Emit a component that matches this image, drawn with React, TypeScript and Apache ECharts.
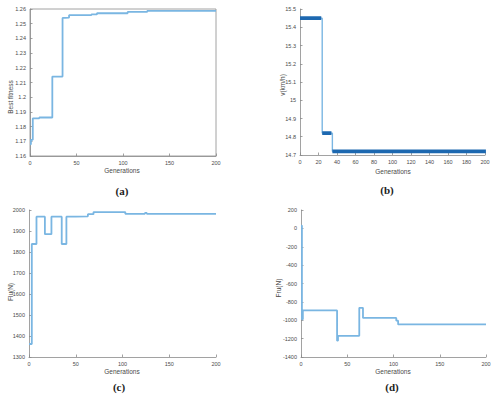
import React, { useEffect, useRef } from "react";
import * as echarts from "echarts";

const genA = [0, 1, 3, 10, 24, 35, 38, 42, 66, 72, 105, 126, 200];
const valA = [1.168, 1.171, 1.1856, 1.1862, 1.214, 1.2539, 1.2542, 1.2558, 1.2563, 1.2571, 1.258, 1.2587, 1.2587];

const genB = [0, 24, 35, 200];
const valB = [15.45, 14.82, 14.72, 14.72];

const genC = [0, 3, 8, 17, 24, 35, 40, 50, 63, 69, 103, 124, 126, 200];
const valC = [1362, 1838, 1968, 1885, 1968, 1838, 1968, 1970, 1980, 1990, 1982, 1986, 1982, 1982];

const genD = [0, 1, 2, 39, 40, 63, 67, 103, 105, 200];
const valD = [30, -990, -893, -1222, -1170, -865, -975, -1005, -1045, -1045];

const ticksA = { min: 1.16, max: 1.26, interval: 0.01 };
const ticksB = { min: 14.7, max: 15.5, interval: 0.1 };
const ticksC = { min: 1300, max: 2000, interval: 100 };
const ticksD = { min: -1400, max: 200, interval: 200 };

const panelLabels = ["(a)", "(b)", "(c)", "(d)"];
const yTitles = ["Best fitness", "v(km/h)", "Flu(N)", "Fru(N)"];
const xTitle = "Generations";

const LIGHT = "#7ab6e2";
const DARK = "#1d68b0";
const AXIS = "#8a8a8a";
const TXT = "#4a4a4a";

function pairs(g: number[], v: number[]) {
  return g.map((x, i) => [x, v[i]]);
}

export default function App() {
  const ref = useRef<HTMLDivElement>(null);
  useEffect(() => {
    if (!ref.current) return;
    const chart = echarts.init(ref.current, undefined, { renderer: "svg" });
    const grids = [
      { left: 30, top: 9, width: 186, height: 147 },
      { left: 300, top: 9, width: 185, height: 146 },
      { left: 29, top: 210, width: 187, height: 147 },
      { left: 301, top: 210, width: 185, height: 147 },
    ];
    const axisCommon = {
      axisLine: { show: true, onZero: false, lineStyle: { color: AXIS, width: 0.8 } },
      axisTick: { show: true, inside: true, length: 2.5, lineStyle: { color: AXIS, width: 0.8 } },
      axisLabel: { color: TXT, fontSize: 5.5, fontFamily: "Liberation Sans, Arial, sans-serif", margin: 4 },
      splitLine: { show: false },
    };
    const xIntervals = [50, 20, 50, 50];
    const xAxes = grids.map((_, i) => ({
      type: "value",
      gridIndex: i,
      min: 0,
      max: 200,
      interval: xIntervals[i],
      ...axisCommon,
    }));
    const yTicks = [ticksA, ticksB, ticksC, ticksD];
    const yAxes = grids.map((_, i) => ({
      type: "value",
      gridIndex: i,
      ...yTicks[i],
      ...axisCommon,
      axisLabel: {
        ...axisCommon.axisLabel,
        formatter: (v: number) =>
          i === 0 || i === 1 ? String(Math.round(v * 100) / 100) : String(Math.round(v)),
      },
    }));

    const lineSeries = (i: number, g: number[], v: number[], color: string, w: number) => ({
      type: "line",
      xAxisIndex: i,
      yAxisIndex: i,
      step: "end",
      data: pairs(g, v),
      showSymbol: false,
      lineStyle: { color, width: w },
    });

    const series: any[] = [
      lineSeries(0, genA, valA, LIGHT, 1.8),
      lineSeries(1, genB, valB, LIGHT, 1.4),
      lineSeries(2, genC, valC, LIGHT, 1.8),
      lineSeries(3, genD, valD, LIGHT, 1.8),
    ];
    for (let k = 0; k < genB.length - 1; k++) {
      const end = k === genB.length - 2 ? genB[k + 1] + 1 : genB[k + 1] - 1;
      series.push({
        type: "line",
        xAxisIndex: 1,
        yAxisIndex: 1,
        data: [
          [genB[k], valB[k]],
          [end, valB[k]],
        ],
        showSymbol: false,
        clip: false,
        lineStyle: { color: DARK, width: 3.6 },
      });
    }

    const serif = "Liberation Serif, Times New Roman, serif";
    const sans = "Liberation Sans, Arial, sans-serif";
    const panelPos = [
      [122, 191],
      [387, 190],
      [119, 387],
      [392, 387],
    ];
    const xTitlePos = [
      [122, 170],
      [393, 171],
      [122, 371],
      [393, 371],
    ];
    const yTitlePos = [
      [10, 97],
      [282, 85],
      [10, 292],
      [278, 288],
    ];
    const graphic: any[] = [];
    for (let i = 0; i < 4; i++) {
      graphic.push({
        type: "text",
        x: panelPos[i][0],
        y: panelPos[i][1],
        style: {
          text: panelLabels[i],
          font: `bold 11px ${serif}`,
          fill: "#222",
          align: "center",
          verticalAlign: "middle",
        },
      });
      graphic.push({
        type: "text",
        x: xTitlePos[i][0],
        y: xTitlePos[i][1],
        style: {
          text: xTitle,
          font: `6.5px ${sans}`,
          fill: TXT,
          align: "center",
          verticalAlign: "middle",
        },
      });
      graphic.push({
        type: "text",
        x: yTitlePos[i][0],
        y: yTitlePos[i][1],
        rotation: Math.PI / 2,
        style: {
          text: yTitles[i],
          font: `6.5px ${sans}`,
          fill: TXT,
          align: "center",
          verticalAlign: "middle",
        },
      });
    }

    chart.setOption({
      animation: false,
      backgroundColor: "#ffffff",
      grid: grids.map((g, i) => ({
        ...g,
        show: i === 0,
        borderColor: AXIS,
        borderWidth: 0.8,
        containLabel: false,
      })),
      xAxis: xAxes,
      yAxis: yAxes,
      series,
      graphic,
    });
    return () => chart.dispose();
  }, []);
  return <div ref={ref} style={{ width: 500, height: 398, position: "absolute", left: 0, top: 0 }} />;
}
